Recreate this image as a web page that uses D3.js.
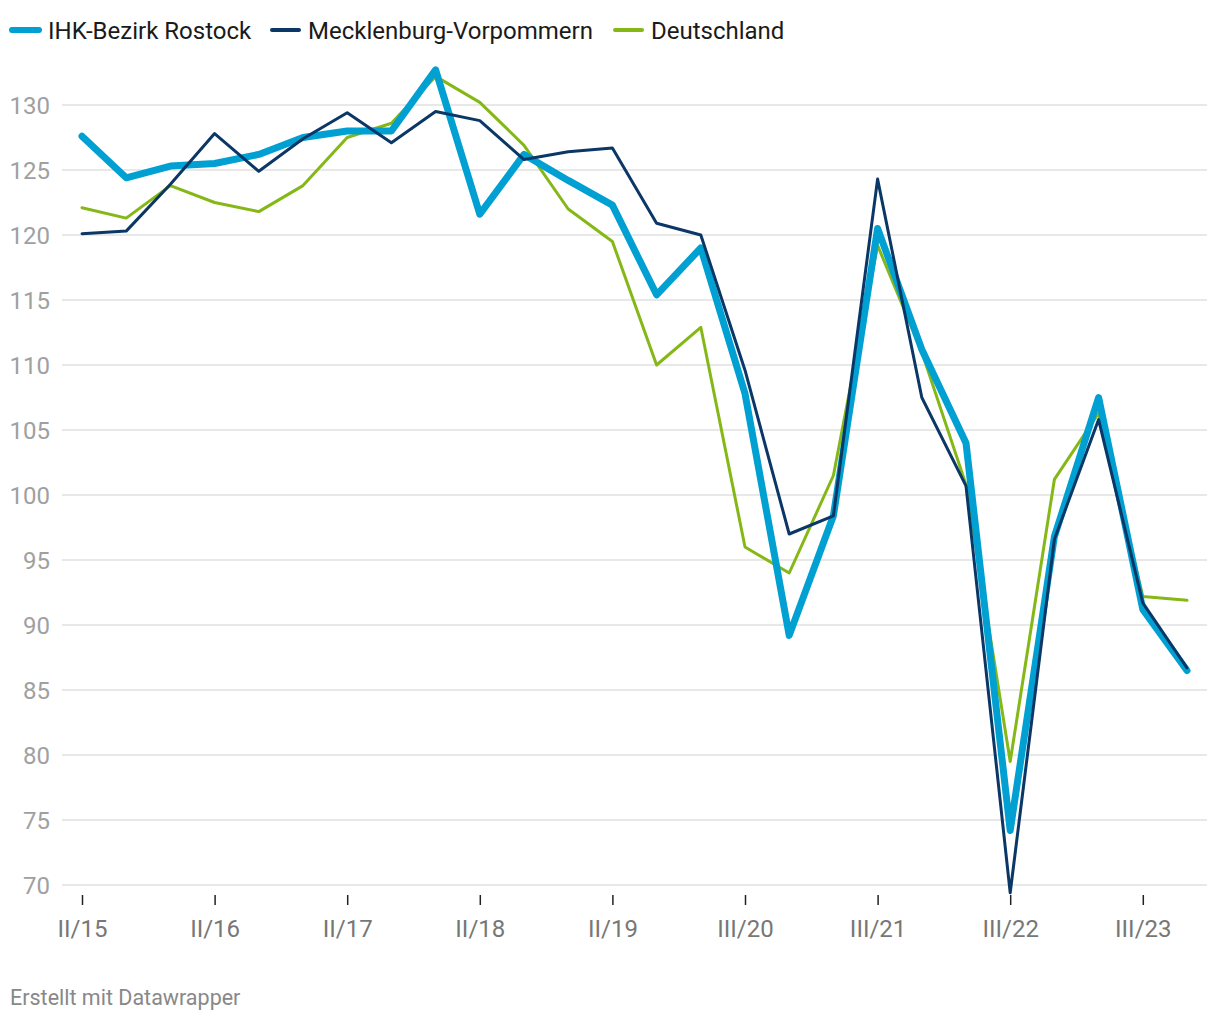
<!DOCTYPE html>
<html><head><meta charset="utf-8">
<script src="https://cdn.jsdelivr.net/npm/d3@7"></script>
<style>
body{margin:0;background:#fff;}
svg{display:block;font-family:Roboto,"Noto Sans",sans-serif;}
</style></head>
<body><svg id="c" width="1220" height="1020"></svg>
<script>
const periods = ["II/15","III/15","I/16","II/16","III/16","I/17","II/17","III/17","I/18","II/18","III/18","I/19","II/19","III/19","I/20","III/20","I/21","II/21","III/21","I/22","II/22","III/22","I/23","II/23","III/23","I/24"];
const tickLabels = ["II/15","II/16","II/17","II/18","II/19","III/20","III/21","III/22","III/23"];
const yTicks = [70,75,80,85,90,95,100,105,110,115,120,125,130];
const rostock = [127.6,124.4,125.3,125.5,126.2,127.5,128.0,128.0,132.7,121.6,126.2,124.2,122.3,115.4,119.0,107.8,89.2,98.4,120.5,111.2,104.0,74.2,96.8,107.5,91.2,86.5];
const mv = [120.1,120.3,123.9,127.8,124.9,127.4,129.4,127.1,129.5,128.8,125.8,126.4,126.7,120.9,120.0,109.6,97.0,98.4,124.3,107.5,100.7,69.4,96.6,105.8,91.7,86.7];
const de = [122.1,121.3,123.8,122.5,121.8,123.8,127.5,128.6,132.2,130.2,126.9,122.0,119.5,110.0,112.9,96.0,94.0,101.5,119.2,111.0,100.8,79.5,101.2,106.3,92.2,91.9];
const seriesNames = ["IHK-Bezirk Rostock","Mecklenburg-Vorpommern","Deutschland"];
const colors = ["#00a0d2","#0b3767","#85b817"];

const svg = d3.select("#c");
const x = d3.scalePoint().domain(periods).range([82,1187]);
const y = d3.scaleLinear().domain([70,130]).range([885,105]);

// grid
svg.append("g").selectAll("line").data(yTicks).join("line")
  .attr("x1",62).attr("x2",1207)
  .attr("y1",d=>y(d)).attr("y2",d=>y(d))
  .attr("stroke","#e1e1e1").attr("stroke-width",1.5);
// y labels
svg.append("g").selectAll("text").data(yTicks).join("text")
  .attr("x",50).attr("y",d=>y(d)).attr("dy","0.36em")
  .attr("text-anchor","end").attr("fill","#a0a0a0")
  .attr("font-size",24).text(d=>d);

// x axis
const xAxis = d3.axisBottom(x).tickValues(tickLabels).tickSize(10).tickPadding(15).tickFormat(d=>d);
const gx = svg.append("g").attr("transform","translate(0,895)").call(xAxis);
gx.select(".domain").remove();
gx.selectAll(".tick line").attr("stroke","#222").attr("stroke-width",1.5);
gx.selectAll(".tick text").attr("fill","#777").attr("font-size",24).attr("font-family","Roboto");

const line = d3.line().x((d,i)=>x(periods[i])).y(d=>y(d));
const drawOrder = [[de,2,3],[rostock,0,7],[mv,1,3]];
drawOrder.forEach(([vals,ci,w])=>{
  svg.append("path").datum(vals).attr("d",line)
    .attr("fill","none").attr("stroke",colors[ci]).attr("stroke-width",w)
    .attr("stroke-linejoin","round").attr("stroke-linecap","round");
});

// legend
const leg = [{n:0,x:12,w:6},{n:1,x:272,w:4},{n:2,x:615,w:4}];
leg.forEach(l=>{
  svg.append("line").attr("x1",l.x).attr("x2",l.x+27).attr("y1",30).attr("y2",30)
    .attr("stroke",colors[l.n]).attr("stroke-width",l.w).attr("stroke-linecap","round");
  svg.append("text").attr("x",l.x+36).attr("y",30).attr("dy","0.36em")
    .attr("font-size",24).attr("fill","#1a1a1a").text(seriesNames[l.n]);
});

svg.append("text").attr("x",10).attr("y",997).attr("dy","0.36em")
  .attr("font-size",21.5).attr("fill","#888").text("Erstellt mit Datawrapper");
</script></body></html>
